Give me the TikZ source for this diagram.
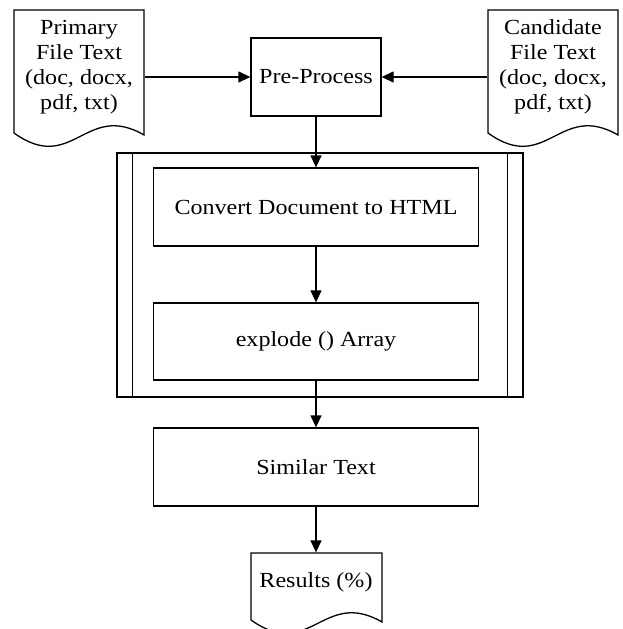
\documentclass[tikz,border=0pt]{standalone}
\usepackage{fontspec}
\setmainfont{Liberation Serif}[FakeStretch=1.12]
\usetikzlibrary{arrows.meta}
\newcommand\docwave[4]{%
  \draw (#1,#2) -- (#3,#2) -- (#3,{#4+2})
    .. controls ({#1+0.55*(#3-#1)},{#4-32}) and ({#1+0.45*(#3-#1)},{#4+42}) .. (#1,#4) -- cycle;}
\begin{document}
\begin{tikzpicture}[x=1pt,y=-1pt,line width=1.3pt,
  txt/.style={font=\fontsize{21.5}{25}\selectfont,align=center,inner sep=0pt},
  procbox/.style={draw,rectangle,txt,minimum width=#1},
  procbox/.default=325pt,
  frame/.style={rectangle,inner sep=0pt},
  conn/.style={-{Triangle[length=12pt,width=11pt]}}]
\useasboundingbox (0,0) rectangle (622,629);
% documents
\docwave{14}{10}{144}{133}
\node[frame,minimum width=130pt,minimum height=123pt] (pridoc) at (79,71.5) {};
\node[txt] (pri) at (79,67) {Primary\\File Text\\(doc, docx,\\pdf, txt)};
\docwave{488}{10}{618}{133}
\node[frame,minimum width=130pt,minimum height=123pt] (caddoc) at (553,71.5) {};
\node[txt] (cad) at (553,67) {Candidate\\File Text\\(doc, docx,\\pdf, txt)};
\docwave{251}{553}{382}{620}
\node[frame,minimum width=131pt,minimum height=67pt] (resdoc) at (316,586.5) {};
\node[txt] (res) at (316,582) {Results (\%)};
% process boxes
\node[procbox=130pt,minimum height=78pt] (pre) at (316,77) {Pre-Process};
\node[draw,frame,minimum width=406pt,minimum height=244pt] (sub) at (320,275) {};
\draw (sub.north west) ++(16,0) -- ++(0,244);
\draw (sub.north east) ++(-16,0) -- ++(0,244);
\node[procbox,minimum height=78pt] (conv) at (316,207) {Convert Document to HTML};
\node[procbox,minimum height=77pt] (expl) at (316,341.5) {explode () Array};
\node[procbox,minimum height=78pt] (sim) at (316,467) {Similar Text};
% connectors
\draw[conn] (pre.west -| pridoc.east) -- (pre.west);
\draw[conn] (pre.east -| caddoc.west) -- (pre.east);
\draw[conn] (pre.south) -- (conv.north);
\draw[conn] (conv.south) -- (expl.north);
\draw[conn] (expl.south) -- (sim.north);
\draw[conn] (sim.south) -- (resdoc.north);
\end{tikzpicture}
\end{document}
